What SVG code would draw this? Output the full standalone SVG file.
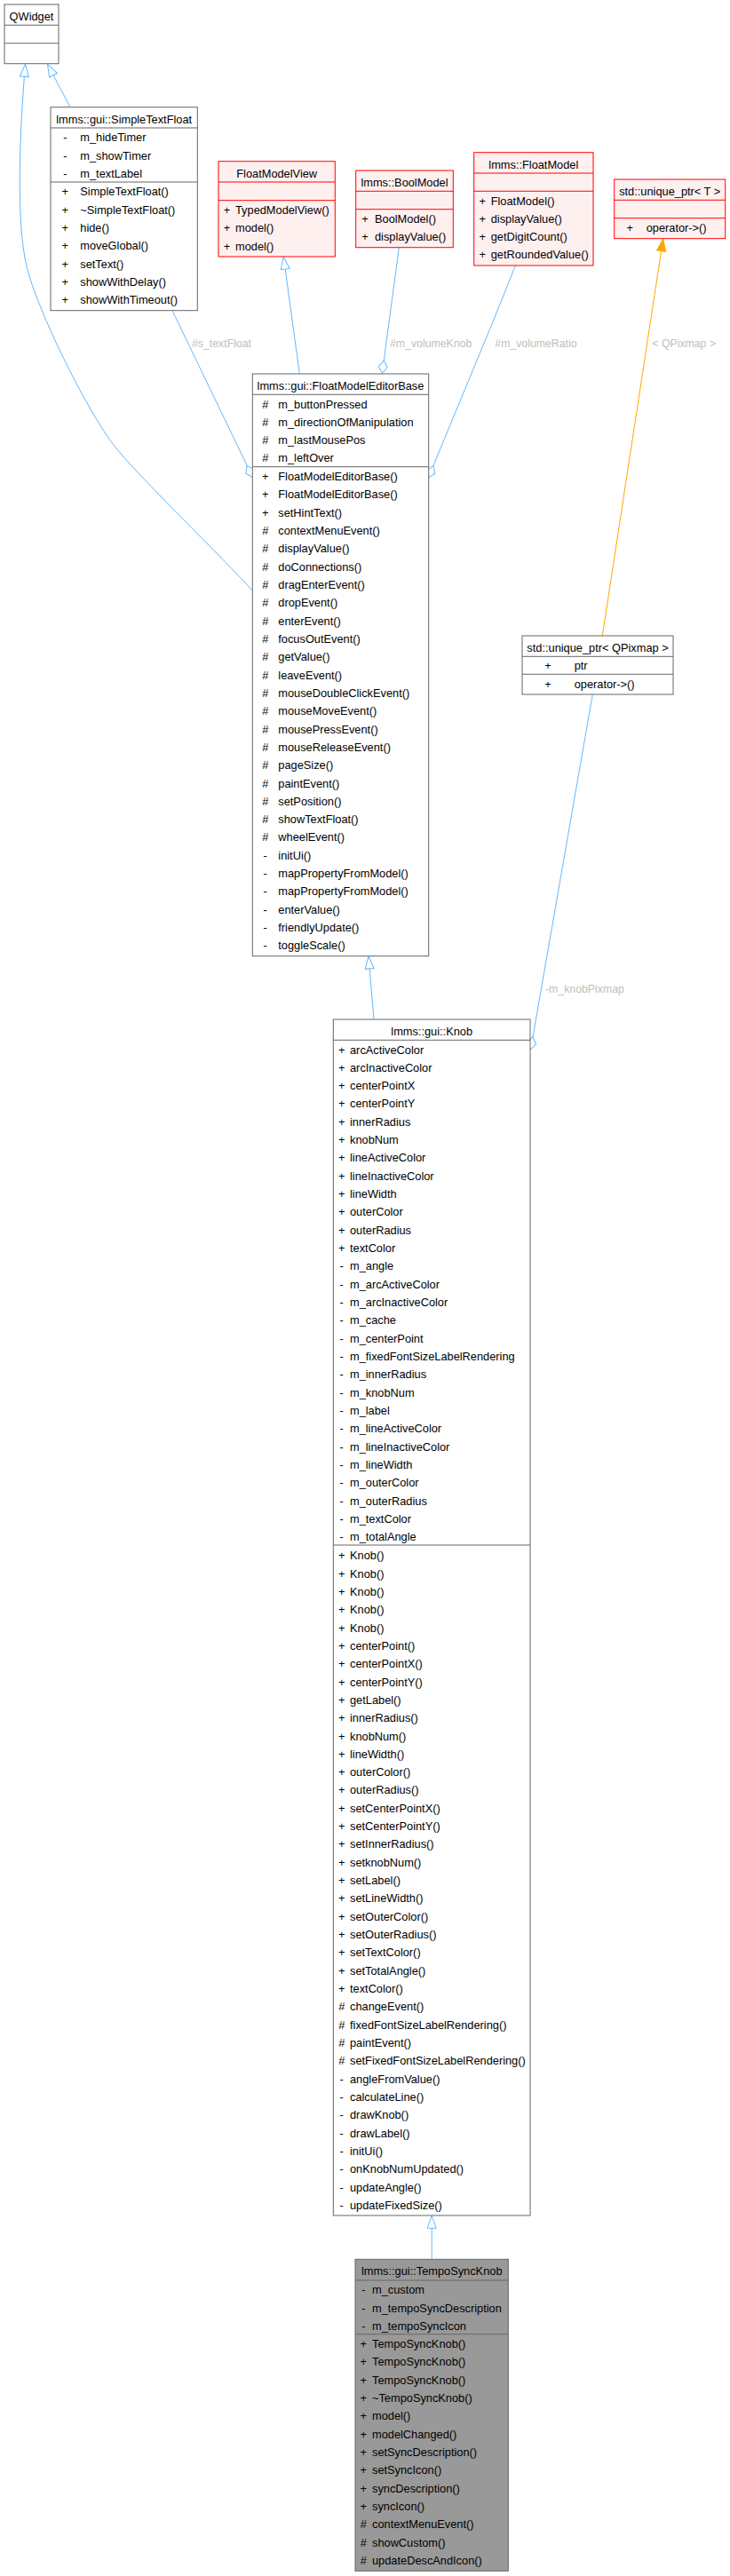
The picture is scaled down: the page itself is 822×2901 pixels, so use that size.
<svg xmlns="http://www.w3.org/2000/svg" width="822" height="2901" viewBox="0 0 822 2901">
<style>
.t{font-family:"Liberation Sans",Arial,Helvetica,sans-serif;font-size:12.8px;fill:#000}
.c{text-anchor:middle}
.lbl{font-family:"Liberation Sans",Arial,Helvetica,sans-serif;font-size:12.3px;fill:#bebebe}
.box{fill:#fff;stroke:#666;stroke-width:1}
.red{fill:#fff0f0;stroke:#f00;stroke-width:1}
.root{fill:#999;stroke:#666;stroke-width:1}
.sep{stroke:#666;stroke-width:1}
.sepr{stroke:#f00;stroke-width:1}
.e{fill:none;stroke:#63b8ff;stroke-width:1}
.o{fill:none;stroke:#ffa500;stroke-width:1}
</style>
<defs>
<marker id="inh" viewBox="0 0 16 12" refX="15" refY="6" markerWidth="16" markerHeight="12" markerUnits="userSpaceOnUse" orient="auto" overflow="visible"><path d="M1,1 L15,6 L1,11 Z" fill="#fff" stroke="#63b8ff"/></marker>
<marker id="agg" viewBox="0 0 17 12" refX="15.5" refY="6" markerWidth="17" markerHeight="12" markerUnits="userSpaceOnUse" orient="auto" overflow="visible"><path d="M1,6 L8.25,1 L15.5,6 L8.25,11 Z" fill="#fff" stroke="#63b8ff"/></marker>
<marker id="tpl" viewBox="0 0 16 12" refX="15" refY="6" markerWidth="16" markerHeight="12" markerUnits="userSpaceOnUse" orient="auto" overflow="visible"><path d="M1,1 L15,6 L1,11 Z" fill="#ffa500" stroke="#ffa500"/></marker>
</defs>

<g id="connectors">
<path class="e" d="M79,120.7 L53.5,72.2" marker-end="url(#inh)"/>
<path class="e" d="M285,666 C256,633 151,532 127,500 C97,460 42,350 30,300 C18,250 22,150 28.5,72.2" marker-end="url(#inh)"/>
<path class="e" d="M194,349.7 L284.5,537.5" marker-end="url(#agg)"/>
<path class="e" d="M337.3,421 L319.3,289.2" marker-end="url(#inh)"/>
<path class="e" d="M449.3,278.7 L430.3,420.5" marker-end="url(#agg)"/>
<path class="e" d="M580.3,299 C560,352 510,470 482.5,538" marker-end="url(#agg)"/>
<path class="o" d="M678.3,716 L746.7,268.9" marker-end="url(#tpl)"/>
<path class="e" d="M421,1148 L415,1077" marker-end="url(#inh)"/>
<path class="e" d="M667.3,782 L597.5,1182" marker-end="url(#agg)"/>
<path class="e" d="M486.2,2544.3 L486.2,2495.3" marker-end="url(#inh)"/>
<text class="lbl" x="216" y="391">#s_textFloat</text>
<text class="lbl" x="439" y="391">#m_volumeKnob</text>
<text class="lbl" x="557.3" y="391">#m_volumeRatio</text>
<text class="lbl" x="734.3" y="391">&lt; QPixmap &gt;</text>
<text class="lbl" x="614" y="1117.5">-m_knobPixmap</text>
</g>

<g id="QWidget">
<rect class="box" x="5" y="5" width="61" height="66.7"/>
<line class="sep" x1="5" y1="28.3" x2="66" y2="28.3"/>
<line class="sep" x1="5" y1="48.7" x2="66" y2="48.7"/>
<text class="t c" x="35.5" y="22.8">QWidget</text>
</g>

<g id="SimpleTextFloat">
<rect class="box" x="57" y="120.7" width="165.3" height="229"/>
<line class="sep" x1="57" y1="144" x2="222.3" y2="144"/>
<line class="sep" x1="57" y1="205" x2="222.3" y2="205"/>
<text class="t c" x="139.7" y="138.5">lmms::gui::SimpleTextFloat</text>
<text class="t c" y="159.2"><tspan x="73.3">-</tspan><tspan x="73.3" dy="20.33">-</tspan><tspan x="73.3" dy="20.33">-</tspan></text>
<text class="t" y="159.2"><tspan x="90.3">m_hideTimer</tspan><tspan x="90.3" dy="20.33">m_showTimer</tspan><tspan x="90.3" dy="20.33">m_textLabel</tspan></text>
<text class="t c" y="220.2"><tspan x="73.3">+</tspan><tspan x="73.3" dy="20.33">+</tspan><tspan x="73.3" dy="20.33">+</tspan><tspan x="73.3" dy="20.33">+</tspan><tspan x="73.3" dy="20.33">+</tspan><tspan x="73.3" dy="20.33">+</tspan><tspan x="73.3" dy="20.33">+</tspan></text>
<text class="t" y="220.2"><tspan x="90.3">SimpleTextFloat()</tspan><tspan x="90.3" dy="20.33">~SimpleTextFloat()</tspan><tspan x="90.3" dy="20.33">hide()</tspan><tspan x="90.3" dy="20.33">moveGlobal()</tspan><tspan x="90.3" dy="20.33">setText()</tspan><tspan x="90.3" dy="20.33">showWithDelay()</tspan><tspan x="90.3" dy="20.33">showWithTimeout()</tspan></text>
</g>

<g id="FloatModelView">
<rect class="red" x="246" y="181.7" width="131.3" height="107.3"/>
<line class="sepr" x1="246" y1="205" x2="377.3" y2="205"/>
<line class="sepr" x1="246" y1="225.7" x2="377.3" y2="225.7"/>
<text class="t c" x="311.7" y="199.5">FloatModelView</text>
<text class="t c" y="240.9"><tspan x="255.5">+</tspan><tspan x="255.5" dy="20.33">+</tspan><tspan x="255.5" dy="20.33">+</tspan></text>
<text class="t" y="240.9"><tspan x="265">TypedModelView()</tspan><tspan x="265" dy="20.33">model()</tspan><tspan x="265" dy="20.33">model()</tspan></text>
</g>

<g id="BoolModel">
<rect class="red" x="400.7" y="192" width="109.6" height="86.7"/>
<line class="sepr" x1="400.7" y1="215.3" x2="510.3" y2="215.3"/>
<line class="sepr" x1="400.7" y1="235.7" x2="510.3" y2="235.7"/>
<text class="t c" x="455.5" y="209.8">lmms::BoolModel</text>
<text class="t c" y="250.9"><tspan x="411">+</tspan><tspan x="411" dy="20.33">+</tspan></text>
<text class="t" y="250.9"><tspan x="422">BoolModel()</tspan><tspan x="422" dy="20.33">displayValue()</tspan></text>
</g>

<g id="FloatModel">
<rect class="red" x="533.7" y="171.7" width="134.3" height="127.3"/>
<line class="sepr" x1="533.7" y1="195" x2="668" y2="195"/>
<line class="sepr" x1="533.7" y1="215.3" x2="668" y2="215.3"/>
<text class="t c" x="600.8" y="189.5">lmms::FloatModel</text>
<text class="t c" y="230.5"><tspan x="543.3">+</tspan><tspan x="543.3" dy="20.33">+</tspan><tspan x="543.3" dy="20.33">+</tspan><tspan x="543.3" dy="20.33">+</tspan></text>
<text class="t" y="230.5"><tspan x="552.7">FloatModel()</tspan><tspan x="552.7" dy="20.33">displayValue()</tspan><tspan x="552.7" dy="20.33">getDigitCount()</tspan><tspan x="552.7" dy="20.33">getRoundedValue()</tspan></text>
</g>

<g id="unique_ptr_T">
<rect class="red" x="691.7" y="202" width="125" height="66.7"/>
<line class="sepr" x1="691.7" y1="225.3" x2="816.7" y2="225.3"/>
<line class="sepr" x1="691.7" y1="245.7" x2="816.7" y2="245.7"/>
<text class="t c" x="754.2" y="219.8">std::unique_ptr&lt; T &gt;</text>
<text class="t c" x="709.3" y="260.9">+</text>
<text class="t" x="727.7" y="260.9">operator-&gt;()</text>
</g>

<g id="FloatModelEditorBase">
<rect class="box" x="284.3" y="421" width="198.4" height="655.7"/>
<line class="sep" x1="284.3" y1="444.3" x2="482.7" y2="444.3"/>
<line class="sep" x1="284.3" y1="525.7" x2="482.7" y2="525.7"/>
<text class="t c" x="383.5" y="438.8">lmms::gui::FloatModelEditorBase</text>
<text class="t c" y="459.5"><tspan x="298.7">#</tspan><tspan x="298.7" dy="20.33">#</tspan><tspan x="298.7" dy="20.33">#</tspan><tspan x="298.7" dy="20.33">#</tspan></text>
<text class="t" y="459.5"><tspan x="313.3">m_buttonPressed</tspan><tspan x="313.3" dy="20.33">m_directionOfManipulation</tspan><tspan x="313.3" dy="20.33">m_lastMousePos</tspan><tspan x="313.3" dy="20.33">m_leftOver</tspan></text>
<text class="t c" y="540.9"><tspan x="298.7">+</tspan><tspan x="298.7" dy="20.33">+</tspan><tspan x="298.7" dy="20.33">+</tspan><tspan x="298.7" dy="20.33">#</tspan><tspan x="298.7" dy="20.33">#</tspan><tspan x="298.7" dy="20.33">#</tspan><tspan x="298.7" dy="20.33">#</tspan><tspan x="298.7" dy="20.33">#</tspan><tspan x="298.7" dy="20.33">#</tspan><tspan x="298.7" dy="20.33">#</tspan><tspan x="298.7" dy="20.33">#</tspan><tspan x="298.7" dy="20.33">#</tspan><tspan x="298.7" dy="20.33">#</tspan><tspan x="298.7" dy="20.33">#</tspan><tspan x="298.7" dy="20.33">#</tspan><tspan x="298.7" dy="20.33">#</tspan><tspan x="298.7" dy="20.33">#</tspan><tspan x="298.7" dy="20.33">#</tspan><tspan x="298.7" dy="20.33">#</tspan><tspan x="298.7" dy="20.33">#</tspan><tspan x="298.7" dy="20.33">#</tspan><tspan x="298.7" dy="20.33">-</tspan><tspan x="298.7" dy="20.33">-</tspan><tspan x="298.7" dy="20.33">-</tspan><tspan x="298.7" dy="20.33">-</tspan><tspan x="298.7" dy="20.33">-</tspan><tspan x="298.7" dy="20.33">-</tspan></text>
<text class="t" y="540.9"><tspan x="313.3">FloatModelEditorBase()</tspan><tspan x="313.3" dy="20.33">FloatModelEditorBase()</tspan><tspan x="313.3" dy="20.33">setHintText()</tspan><tspan x="313.3" dy="20.33">contextMenuEvent()</tspan><tspan x="313.3" dy="20.33">displayValue()</tspan><tspan x="313.3" dy="20.33">doConnections()</tspan><tspan x="313.3" dy="20.33">dragEnterEvent()</tspan><tspan x="313.3" dy="20.33">dropEvent()</tspan><tspan x="313.3" dy="20.33">enterEvent()</tspan><tspan x="313.3" dy="20.33">focusOutEvent()</tspan><tspan x="313.3" dy="20.33">getValue()</tspan><tspan x="313.3" dy="20.33">leaveEvent()</tspan><tspan x="313.3" dy="20.33">mouseDoubleClickEvent()</tspan><tspan x="313.3" dy="20.33">mouseMoveEvent()</tspan><tspan x="313.3" dy="20.33">mousePressEvent()</tspan><tspan x="313.3" dy="20.33">mouseReleaseEvent()</tspan><tspan x="313.3" dy="20.33">pageSize()</tspan><tspan x="313.3" dy="20.33">paintEvent()</tspan><tspan x="313.3" dy="20.33">setPosition()</tspan><tspan x="313.3" dy="20.33">showTextFloat()</tspan><tspan x="313.3" dy="20.33">wheelEvent()</tspan><tspan x="313.3" dy="20.33">initUi()</tspan><tspan x="313.3" dy="20.33">mapPropertyFromModel()</tspan><tspan x="313.3" dy="20.33">mapPropertyFromModel()</tspan><tspan x="313.3" dy="20.33">enterValue()</tspan><tspan x="313.3" dy="20.33">friendlyUpdate()</tspan><tspan x="313.3" dy="20.33">toggleScale()</tspan></text>
</g>

<g id="unique_ptr_QPixmap">
<rect class="box" x="588" y="716" width="170" height="66"/>
<line class="sep" x1="588" y1="739.3" x2="758" y2="739.3"/>
<line class="sep" x1="588" y1="759.3" x2="758" y2="759.3"/>
<text class="t c" x="673" y="734.2">std::unique_ptr&lt; QPixmap &gt;</text>
<text class="t c" x="617" y="754.3">+</text>
<text class="t" x="646.7" y="754.3">ptr</text>
<text class="t c" x="617" y="775">+</text>
<text class="t" x="646.7" y="775">operator-&gt;()</text>
</g>

<g id="Knob">
<rect class="box" x="375.3" y="1148" width="221.7" height="1347"/>
<line class="sep" x1="375.3" y1="1171.3" x2="597" y2="1171.3"/>
<line class="sep" x1="375.3" y1="1740" x2="597" y2="1740"/>
<text class="t c" x="486.2" y="1165.8">lmms::gui::Knob</text>
<text class="t c" y="1186.5"><tspan x="384.7">+</tspan><tspan x="384.7" dy="20.33">+</tspan><tspan x="384.7" dy="20.33">+</tspan><tspan x="384.7" dy="20.33">+</tspan><tspan x="384.7" dy="20.33">+</tspan><tspan x="384.7" dy="20.33">+</tspan><tspan x="384.7" dy="20.33">+</tspan><tspan x="384.7" dy="20.33">+</tspan><tspan x="384.7" dy="20.33">+</tspan><tspan x="384.7" dy="20.33">+</tspan><tspan x="384.7" dy="20.33">+</tspan><tspan x="384.7" dy="20.33">+</tspan><tspan x="384.7" dy="20.33">-</tspan><tspan x="384.7" dy="20.33">-</tspan><tspan x="384.7" dy="20.33">-</tspan><tspan x="384.7" dy="20.33">-</tspan><tspan x="384.7" dy="20.33">-</tspan><tspan x="384.7" dy="20.33">-</tspan><tspan x="384.7" dy="20.33">-</tspan><tspan x="384.7" dy="20.33">-</tspan><tspan x="384.7" dy="20.33">-</tspan><tspan x="384.7" dy="20.33">-</tspan><tspan x="384.7" dy="20.33">-</tspan><tspan x="384.7" dy="20.33">-</tspan><tspan x="384.7" dy="20.33">-</tspan><tspan x="384.7" dy="20.33">-</tspan><tspan x="384.7" dy="20.33">-</tspan><tspan x="384.7" dy="20.33">-</tspan></text>
<text class="t" y="1186.5"><tspan x="394">arcActiveColor</tspan><tspan x="394" dy="20.33">arcInactiveColor</tspan><tspan x="394" dy="20.33">centerPointX</tspan><tspan x="394" dy="20.33">centerPointY</tspan><tspan x="394" dy="20.33">innerRadius</tspan><tspan x="394" dy="20.33">knobNum</tspan><tspan x="394" dy="20.33">lineActiveColor</tspan><tspan x="394" dy="20.33">lineInactiveColor</tspan><tspan x="394" dy="20.33">lineWidth</tspan><tspan x="394" dy="20.33">outerColor</tspan><tspan x="394" dy="20.33">outerRadius</tspan><tspan x="394" dy="20.33">textColor</tspan><tspan x="394" dy="20.33">m_angle</tspan><tspan x="394" dy="20.33">m_arcActiveColor</tspan><tspan x="394" dy="20.33">m_arcInactiveColor</tspan><tspan x="394" dy="20.33">m_cache</tspan><tspan x="394" dy="20.33">m_centerPoint</tspan><tspan x="394" dy="20.33">m_fixedFontSizeLabelRendering</tspan><tspan x="394" dy="20.33">m_innerRadius</tspan><tspan x="394" dy="20.33">m_knobNum</tspan><tspan x="394" dy="20.33">m_label</tspan><tspan x="394" dy="20.33">m_lineActiveColor</tspan><tspan x="394" dy="20.33">m_lineInactiveColor</tspan><tspan x="394" dy="20.33">m_lineWidth</tspan><tspan x="394" dy="20.33">m_outerColor</tspan><tspan x="394" dy="20.33">m_outerRadius</tspan><tspan x="394" dy="20.33">m_textColor</tspan><tspan x="394" dy="20.33">m_totalAngle</tspan></text>
<text class="t c" y="1756.2"><tspan x="384.7">+</tspan><tspan x="384.7" dy="20.33">+</tspan><tspan x="384.7" dy="20.33">+</tspan><tspan x="384.7" dy="20.33">+</tspan><tspan x="384.7" dy="20.33">+</tspan><tspan x="384.7" dy="20.33">+</tspan><tspan x="384.7" dy="20.33">+</tspan><tspan x="384.7" dy="20.33">+</tspan><tspan x="384.7" dy="20.33">+</tspan><tspan x="384.7" dy="20.33">+</tspan><tspan x="384.7" dy="20.33">+</tspan><tspan x="384.7" dy="20.33">+</tspan><tspan x="384.7" dy="20.33">+</tspan><tspan x="384.7" dy="20.33">+</tspan><tspan x="384.7" dy="20.33">+</tspan><tspan x="384.7" dy="20.33">+</tspan><tspan x="384.7" dy="20.33">+</tspan><tspan x="384.7" dy="20.33">+</tspan><tspan x="384.7" dy="20.33">+</tspan><tspan x="384.7" dy="20.33">+</tspan><tspan x="384.7" dy="20.33">+</tspan><tspan x="384.7" dy="20.33">+</tspan><tspan x="384.7" dy="20.33">+</tspan><tspan x="384.7" dy="20.33">+</tspan><tspan x="384.7" dy="20.33">+</tspan><tspan x="384.7" dy="20.33">#</tspan><tspan x="384.7" dy="20.33">#</tspan><tspan x="384.7" dy="20.33">#</tspan><tspan x="384.7" dy="20.33">#</tspan><tspan x="384.7" dy="20.33">-</tspan><tspan x="384.7" dy="20.33">-</tspan><tspan x="384.7" dy="20.33">-</tspan><tspan x="384.7" dy="20.33">-</tspan><tspan x="384.7" dy="20.33">-</tspan><tspan x="384.7" dy="20.33">-</tspan><tspan x="384.7" dy="20.33">-</tspan><tspan x="384.7" dy="20.33">-</tspan></text>
<text class="t" y="1756.2"><tspan x="394">Knob()</tspan><tspan x="394" dy="20.33">Knob()</tspan><tspan x="394" dy="20.33">Knob()</tspan><tspan x="394" dy="20.33">Knob()</tspan><tspan x="394" dy="20.33">Knob()</tspan><tspan x="394" dy="20.33">centerPoint()</tspan><tspan x="394" dy="20.33">centerPointX()</tspan><tspan x="394" dy="20.33">centerPointY()</tspan><tspan x="394" dy="20.33">getLabel()</tspan><tspan x="394" dy="20.33">innerRadius()</tspan><tspan x="394" dy="20.33">knobNum()</tspan><tspan x="394" dy="20.33">lineWidth()</tspan><tspan x="394" dy="20.33">outerColor()</tspan><tspan x="394" dy="20.33">outerRadius()</tspan><tspan x="394" dy="20.33">setCenterPointX()</tspan><tspan x="394" dy="20.33">setCenterPointY()</tspan><tspan x="394" dy="20.33">setInnerRadius()</tspan><tspan x="394" dy="20.33">setknobNum()</tspan><tspan x="394" dy="20.33">setLabel()</tspan><tspan x="394" dy="20.33">setLineWidth()</tspan><tspan x="394" dy="20.33">setOuterColor()</tspan><tspan x="394" dy="20.33">setOuterRadius()</tspan><tspan x="394" dy="20.33">setTextColor()</tspan><tspan x="394" dy="20.33">setTotalAngle()</tspan><tspan x="394" dy="20.33">textColor()</tspan><tspan x="394" dy="20.33">changeEvent()</tspan><tspan x="394" dy="20.33">fixedFontSizeLabelRendering()</tspan><tspan x="394" dy="20.33">paintEvent()</tspan><tspan x="394" dy="20.33">setFixedFontSizeLabelRendering()</tspan><tspan x="394" dy="20.33">angleFromValue()</tspan><tspan x="394" dy="20.33">calculateLine()</tspan><tspan x="394" dy="20.33">drawKnob()</tspan><tspan x="394" dy="20.33">drawLabel()</tspan><tspan x="394" dy="20.33">initUi()</tspan><tspan x="394" dy="20.33">onKnobNumUpdated()</tspan><tspan x="394" dy="20.33">updateAngle()</tspan><tspan x="394" dy="20.33">updateFixedSize()</tspan></text>
</g>

<g id="TempoSyncKnob">
<rect class="root" x="400" y="2544.3" width="172.3" height="351"/>
<line class="sep" x1="400" y1="2568" x2="572.3" y2="2568"/>
<line class="sep" x1="400" y1="2628.7" x2="572.3" y2="2628.7"/>
<text class="t c" x="486.2" y="2562.3">lmms::gui::TempoSyncKnob</text>
<text class="t c" y="2583.2"><tspan x="409.3">-</tspan><tspan x="409.3" dy="20.33">-</tspan><tspan x="409.3" dy="20.33">-</tspan></text>
<text class="t" y="2583.2"><tspan x="419">m_custom</tspan><tspan x="419" dy="20.33">m_tempoSyncDescription</tspan><tspan x="419" dy="20.33">m_tempoSyncIcon</tspan></text>
<text class="t c" y="2643.9"><tspan x="409.3">+</tspan><tspan x="409.3" dy="20.33">+</tspan><tspan x="409.3" dy="20.33">+</tspan><tspan x="409.3" dy="20.33">+</tspan><tspan x="409.3" dy="20.33">+</tspan><tspan x="409.3" dy="20.33">+</tspan><tspan x="409.3" dy="20.33">+</tspan><tspan x="409.3" dy="20.33">+</tspan><tspan x="409.3" dy="20.33">+</tspan><tspan x="409.3" dy="20.33">+</tspan><tspan x="409.3" dy="20.33">#</tspan><tspan x="409.3" dy="20.33">#</tspan><tspan x="409.3" dy="20.33">#</tspan></text>
<text class="t" y="2643.9"><tspan x="419">TempoSyncKnob()</tspan><tspan x="419" dy="20.33">TempoSyncKnob()</tspan><tspan x="419" dy="20.33">TempoSyncKnob()</tspan><tspan x="419" dy="20.33">~TempoSyncKnob()</tspan><tspan x="419" dy="20.33">model()</tspan><tspan x="419" dy="20.33">modelChanged()</tspan><tspan x="419" dy="20.33">setSyncDescription()</tspan><tspan x="419" dy="20.33">setSyncIcon()</tspan><tspan x="419" dy="20.33">syncDescription()</tspan><tspan x="419" dy="20.33">syncIcon()</tspan><tspan x="419" dy="20.33">contextMenuEvent()</tspan><tspan x="419" dy="20.33">showCustom()</tspan><tspan x="419" dy="20.33">updateDescAndIcon()</tspan></text>
</g>
</svg>
